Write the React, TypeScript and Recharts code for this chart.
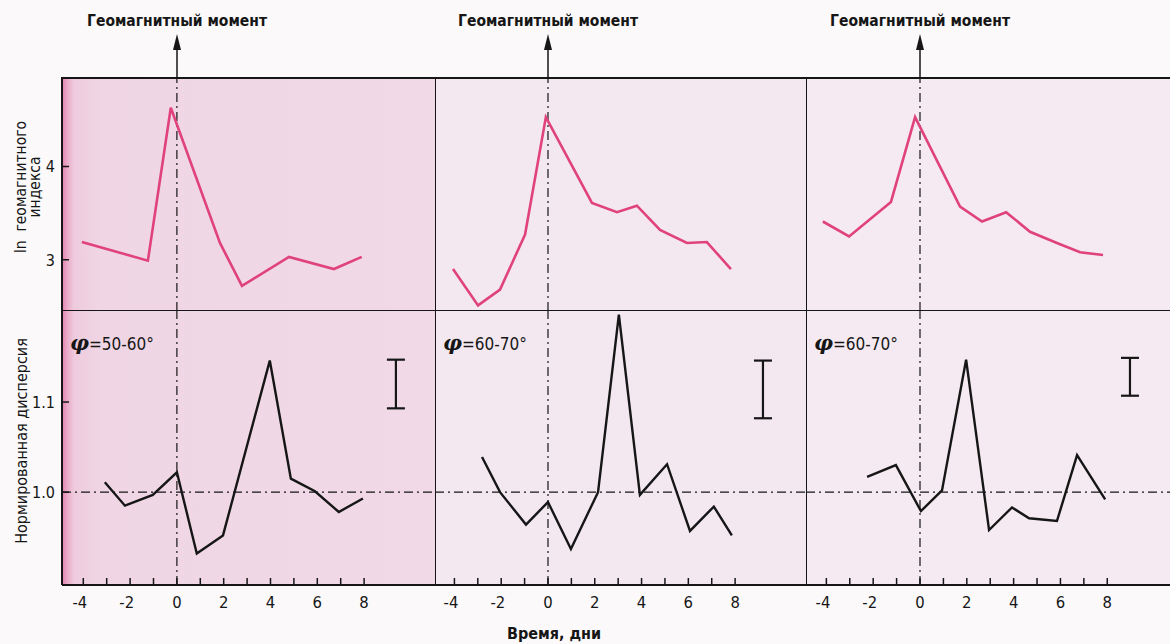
import { ComposedChart, Line, Scatter, ErrorBar, XAxis, YAxis, ReferenceLine } from 'recharts';

// x ticks (days) and y ticks
const dayTicks = [-4, -3, -2, -1, 0, 1, 2, 3, 4, 5, 6, 7, 8];
const lnTicks = [3, 4];
const dispTicks = [1.0, 1.1];

const latitudes = ['50-60°', '60-70°', '60-70°'];

// panel A, φ = 50-60°
const daysTopA = [-4.06, -1.24, -0.26, 1.84, 2.78, 4.79, 6.71, 7.9];
const lnIndexA = [3.19, 2.99, 4.63, 3.18, 2.72, 3.03, 2.9, 3.03];
const daysDispA = [-3.08, -2.22, -1.03, 0, 0.85, 1.97, 3.97, 4.87, 5.9, 6.92, 7.95];
const dispA = [1.011, 0.985, 0.997, 1.022, 0.932, 0.952, 1.146, 1.015, 1.001, 0.978, 0.993];

// panel B, φ = 60-70°
const daysTopB = [-4.06, -2.99, -2.05, -0.98, -0.09, 1.88, 2.95, 3.8, 4.79, 5.94, 6.79, 7.82];
const lnIndexB = [2.9, 2.51, 2.68, 3.27, 4.53, 3.61, 3.51, 3.58, 3.32, 3.18, 3.19, 2.9];
const daysDispB = [-2.82, -2.05, -0.94, 0, 0.98, 2.14, 3.03, 3.93, 5.09, 6.07, 7.09, 7.86];
const dispB = [1.039, 1.0, 0.964, 0.989, 0.937, 1.0, 1.197, 0.997, 1.031, 0.957, 0.984, 0.952];

// panel C, φ = 60-70°
const daysTopC = [-4.15, -3.03, -1.24, -0.21, 1.71, 2.65, 3.68, 4.7, 5.85, 6.84, 7.82];
const lnIndexC = [3.41, 3.25, 3.62, 4.53, 3.57, 3.41, 3.51, 3.3, 3.18, 3.08, 3.05];
const daysDispC = [-2.26, -1.03, 0.04, 0.94, 1.97, 2.95, 3.93, 4.66, 5.85, 6.71, 7.91];
const dispC = [1.017, 1.03, 0.979, 1.002, 1.147, 0.958, 0.983, 0.971, 0.968, 1.041, 0.992];

// error bar markers (x day, centre, half length)
const errDay = [9.36, 9.19, 8.97];
const errMid = [1.12, 1.114, 1.128];
const errHalf = [0.027, 0.032, 0.021];

const zip = (xs: number[], ys: number[]) => xs.map((x, i) => ({ x, y: ys[i] }));

const FONT = '"DejaVu Sans Condensed", "DejaVu Sans", sans-serif';
const INK = '#161616';
const PINK = '#e0427c';
const DASHDOT = '9 4 2 4';

const TOP = 77;
const MID = 311;
const BOTTOM = 585;

const panels = [
  { left: 62, right: 435, zero: 177, domain: [-4.91, 11.03], top: zip(daysTopA, lnIndexA), disp: zip(daysDispA, dispA), bg: 'linear-gradient(to right, #e27fae 0px, #eaa9c8 5px, #eecbdd 12px, #f0d6e5 40px, #f1d9e7 100%)' },
  { left: 435, right: 806, zero: 548, domain: [-4.83, 11.03], top: zip(daysTopB, lnIndexB), disp: zip(daysDispB, dispB), bg: '#f4e8f0' },
  { left: 806, right: 1170, zero: 920, domain: [-4.87, 10.68], top: zip(daysTopC, lnIndexC), disp: zip(daysDispC, dispC), bg: '#f5eaf1' },
];

const XTick = (props: any) => {
  const { x, y, payload } = props;
  const v = payload.value as number;
  return (
    <g>
      <line x1={x} y1={y} x2={x} y2={y - 7} stroke={INK} strokeWidth={1.5} />
      {v % 2 === 0 && (
        <text x={v < 0 ? x + 4 : x} y={y + 23} textAnchor={v < 0 ? 'end' : 'middle'} fontSize={16.5} fill={INK} fontFamily={FONT}>
          {String(v)}
        </text>
      )}
    </g>
  );
};

const YTick = (props: any) => {
  const { x, y, payload } = props;
  const v = payload.value as number;
  const label = v < 2 ? v.toFixed(1) : String(v);
  return (
    <g>
      <line x1={x} y1={y} x2={x + 7} y2={y} stroke={INK} strokeWidth={1.5} />
      <text x={x - 7} y={y + 6} textAnchor="end" fontSize={16} fill={INK} fontFamily={FONT}>
        {label}
      </text>
    </g>
  );
};

function Panel({ idx }: { idx: number }) {
  const p = panels[idx];
  const first = idx === 0;
  const chartLeft = first ? 0 : p.left;
  const width = p.right - chartLeft;
  const yw = first ? p.left : 0;
  return (
    <>
      <div style={{ position: 'absolute', left: chartLeft, top: TOP, width, height: MID - TOP }}>
        <ComposedChart width={width} height={MID - TOP} margin={{ top: 0, right: 0, bottom: 0, left: 0 }}>
          <XAxis type="number" dataKey="x" domain={p.domain} ticks={dayTicks} hide allowDataOverflow />
          <YAxis
            type="number"
            dataKey="y"
            domain={[2.45, 4.96]}
            ticks={lnTicks}
            hide={!first}
            width={yw}
            axisLine={{ stroke: INK, strokeWidth: 2 }}
            tickLine={false}
            tickSize={0}
            tickMargin={0}
            tick={<YTick />}
            allowDataOverflow
          />
          <ReferenceLine x={0} stroke={INK} strokeWidth={1.2} strokeDasharray={DASHDOT} />
          <Line data={p.top} dataKey="y" type="linear" stroke={PINK} strokeWidth={2.6} dot={false} isAnimationActive={false} />
        </ComposedChart>
      </div>
      <div style={{ position: 'absolute', left: chartLeft, top: MID, width, height: BOTTOM - MID + 40 }}>
        <ComposedChart width={width} height={BOTTOM - MID + 40} margin={{ top: 0, right: 0, bottom: 0, left: 0 }}>
          <XAxis
            type="number"
            dataKey="x"
            domain={p.domain}
            ticks={dayTicks}
            height={40}
            axisLine={{ stroke: INK, strokeWidth: 2 }}
            tickLine={false}
            tickSize={0}
            tickMargin={0}
            tick={<XTick />}
            interval={0}
            allowDataOverflow
          />
          <YAxis
            type="number"
            dataKey="y"
            domain={[0.897, 1.201]}
            ticks={dispTicks}
            hide={!first}
            width={yw}
            axisLine={{ stroke: INK, strokeWidth: 2 }}
            tickLine={false}
            tickSize={0}
            tickMargin={0}
            tick={<YTick />}
            allowDataOverflow
          />
          <ReferenceLine x={0} stroke={INK} strokeWidth={1.2} strokeDasharray={DASHDOT} />
          <ReferenceLine y={1.0} stroke={INK} strokeWidth={1.2} strokeDasharray={DASHDOT} />
          <Line data={p.disp} dataKey="y" type="linear" stroke={INK} strokeWidth={2.4} dot={false} isAnimationActive={false} />
          <Scatter
            data={[{ x: errDay[idx], y: errMid[idx], err: errHalf[idx] }]}
            dataKey="y"
            shape={() => <g />}
            isAnimationActive={false}
          >
            <ErrorBar dataKey="err" direction="y" width={9} stroke={INK} strokeWidth={2.2} isAnimationActive={false} />
          </Scatter>
        </ComposedChart>
      </div>
      <div
        style={{
          position: 'absolute',
          left: p.left + 8,
          top: 330,
          fontFamily: FONT,
          fontSize: 17,
          color: INK,
          whiteSpace: 'nowrap',
        }}
      >
        <span style={{ fontFamily: '"DejaVu Serif", serif', fontStyle: 'italic', fontWeight: 'bold', fontSize: 21 }}>φ</span>
        ={latitudes[idx]}
      </div>
      <div
        style={{
          position: 'absolute',
          left: p.zero,
          top: 12,
          transform: 'translateX(-50%)',
          fontFamily: FONT,
          fontWeight: 'bold',
          fontSize: 15.5,
          color: INK,
          whiteSpace: 'nowrap',
        }}
      >
        Геомагнитный момент
      </div>
    </>
  );
}

export default function App() {
  return (
    <div style={{ position: 'absolute', left: 0, top: 0, width: 1170, height: 644, background: '#fbf9fa', overflow: 'hidden' }}>
      {panels.map((p, i) => (
        <div
          key={`bg-${i}`}
          style={{
            position: 'absolute',
            left: p.left,
            top: TOP,
            width: p.right - p.left,
            height: BOTTOM - TOP,
            background: p.bg,
            borderTop: `2px solid ${INK}`,
            borderLeft: i > 0 ? `1.5px solid ${INK}` : 'none',
            boxSizing: 'border-box',
          }}
        />
      ))}
      <div style={{ position: 'absolute', left: 62, top: MID - 1, width: 1108, height: 0, borderTop: `1.5px solid ${INK}` }} />
      {panels.map((_, i) => (
        <Panel key={i} idx={i} />
      ))}
      <svg width={1170} height={644} style={{ position: 'absolute', left: 0, top: 0, pointerEvents: 'none' }}>
        {panels.map((p, i) => (
          <g key={`arr-${i}`}>
            <line x1={p.zero} y1={48} x2={p.zero} y2={TOP} stroke={INK} strokeWidth={1.5} />
            <polygon points={`${p.zero},34 ${p.zero - 4},50 ${p.zero + 4},50`} fill={INK} />
          </g>
        ))}
      </svg>
      <div
        style={{
          position: 'absolute',
          left: 21,
          top: 187,
          transform: 'translate(-50%, -50%) rotate(-90deg)',
          fontFamily: FONT,
          fontSize: 15.5,
          color: INK,
          whiteSpace: 'pre',
        }}
      >
        {'ln  геомагнитного'}
      </div>
      <div
        style={{
          position: 'absolute',
          left: 35,
          top: 187,
          transform: 'translate(-50%, -50%) rotate(-90deg)',
          fontFamily: FONT,
          fontSize: 15.5,
          color: INK,
          whiteSpace: 'nowrap',
        }}
      >
        индекса
      </div>
      <div
        style={{
          position: 'absolute',
          left: 21,
          top: 441,
          transform: 'translate(-50%, -50%) rotate(-90deg)',
          fontFamily: FONT,
          fontSize: 16,
          color: INK,
          whiteSpace: 'nowrap',
        }}
      >
        Нормированная дисперсия
      </div>
      <div
        style={{
          position: 'absolute',
          left: 554,
          top: 633,
          transform: 'translate(-50%, -50%)',
          fontFamily: FONT,
          fontSize: 16,
          fontWeight: 600,
          color: INK,
          whiteSpace: 'nowrap',
        }}
      >
        Время, дни
      </div>
    </div>
  );
}
